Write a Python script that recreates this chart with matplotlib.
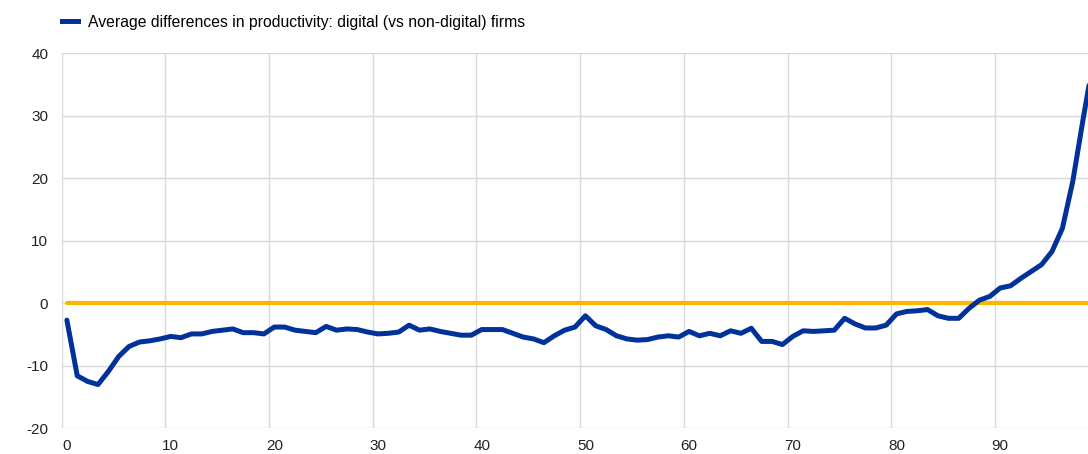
import matplotlib
matplotlib.use("Agg")
import matplotlib.pyplot as plt
import numpy as np

percentiles = list(range(100))
productivity_diff = [
    -2.7, -11.6, -12.5, -13.0, -10.9, -8.5, -6.9, -6.2, -6.0, -5.7,
    -5.3, -5.5, -4.9, -4.9, -4.5, -4.3, -4.1, -4.7, -4.7, -4.9,
    -3.8, -3.8, -4.3, -4.5, -4.7, -3.7, -4.3, -4.1, -4.2, -4.6,
    -4.9, -4.8, -4.6, -3.5, -4.3, -4.1, -4.5, -4.8, -5.1, -5.1,
    -4.2, -4.2, -4.2, -4.8, -5.4, -5.7, -6.3, -5.2, -4.3, -3.8,
    -2.0, -3.6, -4.2, -5.2, -5.7, -5.9, -5.8, -5.4, -5.2, -5.4,
    -4.5, -5.2, -4.8, -5.2, -4.4, -4.8, -4.0, -6.1, -6.1, -6.6,
    -5.3, -4.4, -4.5, -4.4, -4.3, -2.4, -3.3, -3.95, -3.95, -3.5,
    -1.7, -1.3, -1.2, -1.0, -2.0, -2.4, -2.4, -0.8, 0.5, 1.1,
    2.45, 2.8, 4.0, 5.1, 6.2, 8.3, 12.0, 19.5, 29.5, 39.0,
]
zero_line = [0.0] * len(percentiles)
x_ticks = [0, 10, 20, 30, 40, 50, 60, 70, 80, 90]
y_ticks = [-20, -10, 0, 10, 20, 30, 40]
series_label = "Average differences in productivity: digital (vs non-digital) firms"

plt.rcParams['font.family'] = ['Liberation Sans', 'DejaVu Sans']

BLUE = "#003299"
YELLOW = "#FFB400"
GRID = "#d9d9d9"

fig = plt.figure(figsize=(10.88, 4.54), dpi=100)
W, H = 1088, 454
left_px, right_px = 61.7, 61.7 + 100 * 10.37
top_px, bottom_px = 53.3, 428.3
ax = fig.add_axes([left_px / W, 1 - bottom_px / H, (right_px - left_px) / W, (bottom_px - top_px) / H])

ax.plot(percentiles, zero_line, color=YELLOW, lw=3.0, solid_capstyle='round', zorder=3)
ax.plot(percentiles, productivity_diff, color=BLUE, lw=3.6, solid_capstyle='round',
        solid_joinstyle='round', zorder=4, label=series_label)

ax.set_xlim(-0.5, len(percentiles) - 0.5)
ax.set_ylim(-20, 40)

# category-style grid: vertical lines at category boundaries
for k in range(0, 11):
    ax.axvline(-0.5 + 10 * k, color=GRID, lw=1.0, zorder=1)
for y in y_ticks:
    ax.axhline(y, color=GRID, lw=1.0, zorder=1)

ax.set_xticks(x_ticks)
ax.set_xticklabels([str(v) for v in x_ticks])
ax.set_yticks(y_ticks)
ax.set_yticklabels([str(v) for v in y_ticks])
ax.tick_params(axis='both', length=0, labelsize=11, colors='#222222')
ax.tick_params(axis='x', pad=8)
ax.tick_params(axis='y', pad=9.7)
for s in ax.spines.values():
    s.set_visible(False)

leg = fig.legend(handles=[plt.Line2D([], [], color=BLUE, lw=3.6)], labels=[series_label],
                 loc='center left', bbox_to_anchor=(48 / W, 1 - 22 / H), frameon=False,
                 fontsize=11.3, handlelength=1.02, handletextpad=0.64)

fig.savefig("out.png", dpi=100)
